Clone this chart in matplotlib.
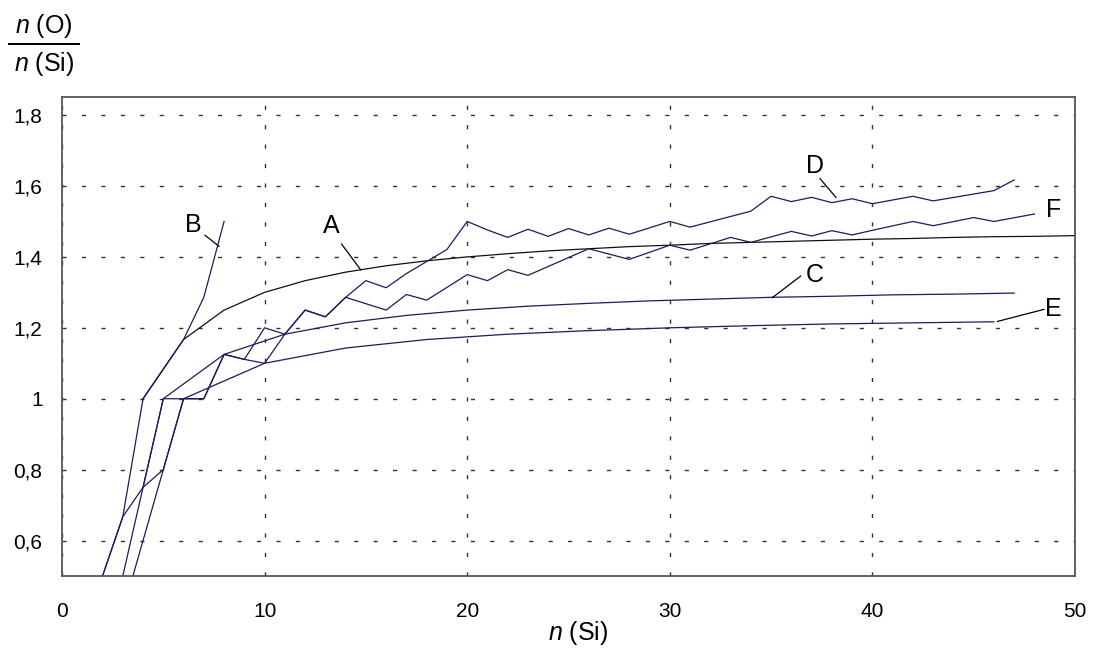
import matplotlib
matplotlib.use("Agg")
import matplotlib.pyplot as plt

plt.rcParams["font.family"] = ["Liberation Sans", "DejaVu Sans"]
plt.rcParams["mathtext.fontset"] = "custom"
plt.rcParams["mathtext.it"] = "Liberation Sans:italic"
plt.rcParams["mathtext.rm"] = "Liberation Sans"
plt.rcParams["lines.scale_dashes"] = False

# values: n(Si) and n(O)/n(Si)
a_n = [4, 6, 8, 10, 12, 14, 16, 18, 20, 22, 24, 26, 28, 30, 32, 34, 36, 38, 40, 42, 44, 46, 48, 50]
a_ratio = [1.0, 1.167, 1.25, 1.3, 1.333, 1.357, 1.375, 1.389, 1.4, 1.409, 1.417, 1.423, 1.429,
           1.433, 1.438, 1.441, 1.444, 1.447, 1.45, 1.452, 1.455, 1.457, 1.458, 1.46]

b_n = [2, 3, 4, 6, 7, 8]
b_ratio = [0.5, 0.667, 1.0, 1.167, 1.286, 1.5]

c_n = [1, 5, 8, 11, 14, 17, 20, 23, 26, 29, 32, 35, 38, 41, 44, 47]
c_ratio = [0.0, 1.0, 1.125, 1.182, 1.214, 1.235, 1.25, 1.261, 1.269, 1.276, 1.281, 1.286,
           1.289, 1.293, 1.295, 1.298]

d_n = [2, 3, 4, 5, 6, 7, 8, 9, 10, 11, 12, 13, 14, 15, 16, 17, 19, 20, 21, 22, 23, 24, 25, 26,
       27, 28, 30, 31, 34, 35, 36, 37, 38, 39, 40, 42, 43, 46, 47]
d_ratio = [0.5, 0.667, 0.75, 0.8, 1.0, 1.0, 1.125, 1.111, 1.2, 1.182, 1.25, 1.231, 1.286, 1.333,
           1.313, 1.353, 1.421, 1.5, 1.476, 1.455, 1.478, 1.458, 1.48, 1.462, 1.481, 1.464,
           1.5, 1.484, 1.529, 1.571, 1.556, 1.568, 1.553, 1.564, 1.55, 1.571, 1.558, 1.587, 1.617]

e_n = [1, 6, 10, 14, 18, 22, 26, 30, 34, 38, 42, 46]
e_ratio = [0.0, 1.0, 1.1, 1.143, 1.167, 1.182, 1.192, 1.2, 1.206, 1.211, 1.214, 1.217]

f_n = [4, 5, 6, 7, 8, 9, 10, 11, 12, 13, 14, 16, 17, 18, 20, 21, 22, 23, 26, 28, 30, 31, 33, 34,
       36, 37, 38, 39, 40, 42, 43, 45, 46, 48]
f_ratio = [0.75, 1.0, 1.0, 1.0, 1.125, 1.111, 1.1, 1.182, 1.25, 1.231, 1.286, 1.25, 1.294, 1.278,
           1.35, 1.333, 1.364, 1.348, 1.423, 1.393, 1.433, 1.419, 1.455, 1.441, 1.472, 1.459,
           1.474, 1.462, 1.475, 1.5, 1.488, 1.511, 1.5, 1.521]

# curve labels and their leader lines
label_names = ["A", "B", "C", "D", "E", "F"]
label_x = [13.28, 6.48, 37.17, 37.15, 48.95, 48.95]
label_y = [1.487, 1.489, 1.349, 1.656, 1.252, 1.531]
leaders = {
    "A": ([13.8, 14.74], [1.436, 1.364]),
    "B": ([7.06, 7.75], [1.461, 1.43]),
    "C": ([36.46, 35.06], [1.346, 1.285]),
    "D": ([37.41, 38.2], [1.621, 1.568]),
    "E": ([48.47, 46.17], [1.252, 1.218]),
}

x_ticks = [0, 10, 20, 30, 40, 50]
y_ticks = [0.6, 0.8, 1.0, 1.2, 1.4, 1.6, 1.8]
y_tick_labels = ["0,6", "0,8", "1", "1,2", "1,4", "1,6", "1,8"]

navy = "#1c1c5c"

fig = plt.figure(figsize=(10.93, 6.5), dpi=100)
ax = fig.add_axes([62 / 1093, 1 - 576 / 650, (1075 - 62) / 1093, (576 - 97) / 650])

ax.plot(a_n, a_ratio, color="#111111", lw=0.9)
for xs, ys in [(b_n, b_ratio), (c_n, c_ratio), (d_n, d_ratio), (e_n, e_ratio), (f_n, f_ratio)]:
    ax.plot(xs, ys, color=navy, lw=0.9)

for name, tx, ty in zip(label_names, label_x, label_y):
    ax.text(tx, ty, name, fontsize=18, ha="center", va="center")
    if name in leaders:
        lx, ly = leaders[name]
        ax.plot(lx, ly, color="black", lw=0.9)

ax.set_xlim(0, 50)
ax.set_ylim(0.5, 1.851)
ax.set_xticks(x_ticks)
ax.set_yticks(y_ticks)
ax.set_yticklabels(y_tick_labels)
ax.tick_params(axis="both", length=0, labelsize=15)
ax.tick_params(axis="x", pad=19)
ax.tick_params(axis="y", pad=14)

ax.grid(True, color="#333333", lw=1.0, linestyle=(0, (3, 11)))
for s in ax.spines.values():
    s.set_color("#555555")
    s.set_linewidth(1.3)

# y-axis title drawn as a fraction
fig.text(44 / 1093, 1 - 26 / 650, r"$n$ (O)", fontsize=18, ha="center", va="center")
fig.add_artist(plt.Line2D([9 / 1093, 79 / 1093], [1 - 44.3 / 650, 1 - 44.3 / 650],
                          color="black", lw=1.4, transform=fig.transFigure))
fig.text(44 / 1093, 1 - 64 / 650, r"$n$ (Si)", fontsize=18, ha="center", va="center")
fig.text(578 / 1093, 1 - 633 / 650, r"$n$ (Si)", fontsize=18, ha="center", va="center")

fig.savefig("out.png", dpi=100)
